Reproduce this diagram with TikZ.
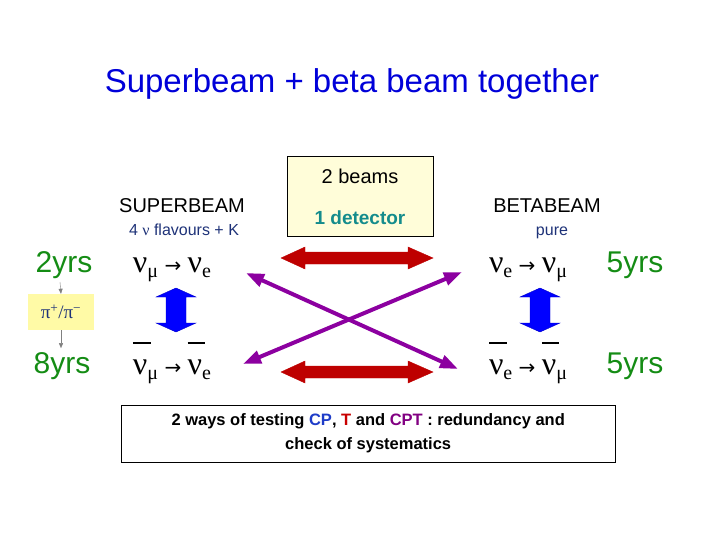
\documentclass[tikz,border=0pt]{standalone}
\usepackage{fontspec}
\setmainfont{Liberation Sans}
\newfontfamily\grk{Liberation Serif}
\newfontfamily\djv{DejaVu Sans}
\usetikzlibrary{arrows.meta}
\definecolor{ygreen}{RGB}{20,140,20}
\definecolor{tealc}{RGB}{20,140,140}
\definecolor{navyc}{RGB}{30,50,120}
\definecolor{redar}{RGB}{190,0,0}
\definecolor{purp}{RGB}{140,0,160}
\definecolor{cpblue}{RGB}{30,60,200}
\definecolor{tred}{RGB}{200,0,0}
\definecolor{tpurp}{RGB}{130,0,130}
\tikzset{
 yrs/.style={text=ygreen,font=\fontsize{30}{32}\selectfont,anchor=base},
 nu/.style={font=\grk\fontsize{32}{34}\selectfont,anchor=base},
 head/.style={font=\fontsize{20}{22}\selectfont,anchor=base},
 sub/.style={font=\fontsize{16}{18}\selectfont,text=navyc,anchor=base},
 redarrow/.style={draw=redar,fill=redar},
 purparrow/.style={purp,line width=4pt,{Triangle[length=18pt,width=13pt]}-{Triangle[length=18pt,width=13pt]}},
 bluearrow/.style={draw=blue!80!black,fill=blue},
}
\newcommand{\nubar}{\makebox[0pt][l]{\raisebox{0.95em}{\rule{0.55em}{2pt}}}ν}
\newcommand{\nub}[1]{\nubar\raisebox{-0.35ex}{\fontsize{20}{22}\selectfont #1}}
\newcommand{\nuc}[1]{ν\raisebox{-0.35ex}{\fontsize{20}{22}\selectfont #1}}
\newcommand{\arr}{{\djv\fontsize{20}{20}\selectfont\ →\ }}
\begin{document}
\begin{tikzpicture}[x=1pt,y=-1pt]
\useasboundingbox (0,0) rectangle (720,540);
\node[font=\fontsize{33}{36}\selectfont,text=blue!85!black] (title) at (352,84) {Superbeam + beta beam together};
\node[draw,fill=yellow!15,minimum width=146,minimum height=80,anchor=north west] (box) at (287,156) {};
\node[head] (b2) at (360,184) {2 beams};
\node[head,text=tealc,font=\bfseries\fontsize{19}{21}\selectfont] (det) at (360,225) {1 detector};
\node[head] (sb) at (182,213) {SUPERBEAM};
\node[sub] (fl) at (184,236) {4 {\grk ν} flavours + K};
\node[head] (bb) at (547,213) {BETABEAM};
\node[sub] (pu) at (552,236) {pure};
\node[yrs] (y2) at (64,272) {2yrs};
\node[yrs] (y8) at (62,373) {8yrs};
\node[yrs] (y5a) at (635,272) {5yrs};
\node[yrs] (y5b) at (635,373) {5yrs};
\node[nu] (l1) at (172,272) {\nuc{μ}\arr\nuc{e}};
\node[nu] (l2) at (172,374) {\nub{μ}\arr\nub{e}};
\node[nu] (r1) at (528,272) {\nuc{e}\arr\nuc{μ}};
\node[nu] (r2) at (528,374) {\nub{e}\arr\nub{μ}};
\node[fill=yellow!35,minimum width=66,minimum height=36,font=\grk\fontsize{19}{20}\selectfont,text=navyc] (pi) at (61,312) {π\textsuperscript{+}/π\textsuperscript{−}};
\draw[gray,-{Triangle[length=5pt,width=4pt]}] (60,282) -- (pi.north);
\draw[gray,-{Triangle[length=5pt,width=4pt]}] (pi.south) -- ++(0,18) coordinate (pe);
\foreach \yy in {258,372}{
 \fill[redarrow] (281,\yy) -- (305,\yy-11) -- (305,\yy-6) -- (408,\yy-6) -- (408,\yy-11) -- (433,\yy) -- (408,\yy+11) -- (408,\yy+6) -- (305,\yy+6) -- (305,\yy+11) -- cycle;}
\coordinate (pa1) at (246,273); \coordinate (pa2) at (458,369);
\coordinate (pb1) at (243,364); \coordinate (pb2) at (462,272);
\draw[purparrow] (pa1) -- (pa2);
\draw[purparrow] (pb1) -- (pb2);
\foreach \xx in {176,540}{
 \fill[bluearrow] (\xx,288) -- (\xx+20,297) -- (\xx+10,297) -- (\xx+10,323) -- (\xx+20,323) -- (\xx,332) -- (\xx-20,323) -- (\xx-10,323) -- (\xx-10,297) -- (\xx-20,297) -- cycle;}
\node[draw,fill=white,minimum width=494,minimum height=57,anchor=north west] (bot) at (121,405) {};
\node[align=center,font=\bfseries\fontsize{16.5}{24}\selectfont] (bt) at (bot.center) {2 ways of testing \textcolor{cpblue}{CP}, \textcolor{tred}{T} and \textcolor{tpurp}{CPT} : redundancy and\\check of systematics};
\end{tikzpicture}
\end{document}
